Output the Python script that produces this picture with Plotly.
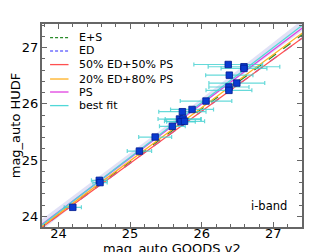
import plotly.graph_objects as go

# measured points
x_goods = [24.20, 24.57, 24.58, 25.13, 25.35, 25.59, 25.69, 25.74, 25.71, 25.76,
           25.73, 25.865, 26.06, 26.37, 26.59, 26.59, 26.385, 26.49, 26.38, 26.38]
y_hudf = [24.16, 24.64, 24.60, 25.16, 25.41, 25.60, 25.73, 25.73, 25.68, 25.69,
          25.86, 25.90, 26.05, 26.70, 26.66, 26.63, 26.51, 26.37, 26.30, 26.24]
x_err = [0.12, 0.11, 0.10, 0.17, 0.23, 0.18, 0.30, 0.25, 0.20, 0.28,
         0.33, 0.30, 0.36, 0.48, 0.50, 0.32, 0.33, 0.39, 0.28, 0.32]

# model lines sampled at two x values
x_line = [23.7, 27.5]
y_es = [23.75, 27.32]
y_ed = [23.74, 27.26]
y_50 = [23.74, 27.26]
y_20 = [23.76, 27.35]
y_ps = [23.79, 27.44]
y_fit = [23.78, 27.49]

# best-fit confidence band
band_x = [23.7, 25.6, 27.5]
band_lo = [23.68, 25.62, 27.39]
band_hi = [23.88, 25.70, 27.59]

legend_names = ["E+S", "ED", "50% ED+50% PS", "20% ED+80% PS", "PS", "best fit"]

fig = go.Figure()

fig.add_trace(go.Scatter(x=band_x, y=band_lo, mode="lines", line=dict(width=0),
                         showlegend=False, hoverinfo="skip"))
fig.add_trace(go.Scatter(x=band_x, y=band_hi, mode="lines", line=dict(width=0),
                         fill="tonexty", fillcolor="rgba(170,170,230,0.35)",
                         showlegend=False, hoverinfo="skip"))

styles = [("#2a8a2a", "dash"), ("#7070ff", "dash"), ("#ff5050", "solid"),
          ("#ffb020", "solid"), ("#e040e0", "solid"), ("#50d8d8", "solid")]
series = [y_es, y_ed, y_50, y_20, y_ps, y_fit]
for name, yy, (col, dash) in zip(legend_names, series, styles):
    fig.add_trace(go.Scatter(x=x_line, y=yy, mode="lines", name=name, showlegend=False,
                             line=dict(color=col, width=1.3, dash=dash)))

fig.add_trace(go.Scatter(
    x=x_goods, y=y_hudf, mode="markers", showlegend=False,
    marker=dict(symbol="square", size=6.5, color="#0a3ad0",
                line=dict(color="#001a90", width=0.8)),
    error_x=dict(type="data", array=x_err, color="rgba(64,208,208,0.8)",
                 thickness=1.2, width=2),
))

# manual legend (compact spacing like the reference)
shapes = []
annotations = []
leg_y = [0.933, 0.867, 0.800, 0.729, 0.665, 0.598]
for name, (col, dash), ly in zip(legend_names, styles, leg_y):
    shapes.append(dict(type="line", xref="paper", yref="paper", x0=0.031, x1=0.102,
                       y0=ly, y1=ly, line=dict(color=col, width=1.3,
                                               dash="3px,2px" if dash == "dash" else "solid")))
    annotations.append(dict(x=0.135, y=ly, xref="paper", yref="paper", xanchor="left",
                            yanchor="middle", text=name, showarrow=False,
                            font=dict(size=11)))
annotations.append(dict(x=0.95, y=0.06, xref="paper", yref="paper",
                        xanchor="right", yanchor="bottom", text="i-band",
                        showarrow=False, font=dict(size=11.5)))
# x-axis title placed as an annotation just below the tick labels
annotations.append(dict(x=0.5, y=-0.058, xref="paper", yref="paper",
                        xanchor="center", yanchor="top", text="mag_auto GOODS v2",
                        showarrow=False, font=dict(size=13)))

axis_common = dict(
    showgrid=False, zeroline=False, showline=True, linecolor="#666666", linewidth=2,
    mirror="ticks", ticks="inside", ticklen=5, tickcolor="#666666", tickwidth=1,
    dtick=1, tickfont=dict(family="DejaVu Sans", size=13, color="black"),
    minor=dict(ticks="inside", ticklen=3, dtick=0.2, tickcolor="#666666"),
    automargin=False,
)

# page has an 8px body margin, so the figure is sized/offset to compensate
fig.update_layout(
    width=328, height=244,
    margin=dict(l=34, r=34, t=16, b=25),
    paper_bgcolor="white", plot_bgcolor="white",
    font=dict(family="DejaVu Sans", color="black"),
    showlegend=False,
    xaxis=dict(range=[23.77, 27.4], ticklabelstandoff=-7, **axis_common),
    yaxis=dict(range=[23.81, 27.42], ticklabelstandoff=-1,
               title=dict(text="mag_auto HUDF", font=dict(size=13), standoff=4),
               **axis_common),
    shapes=shapes,
    annotations=annotations,
)

fig.write_html("out.html")
